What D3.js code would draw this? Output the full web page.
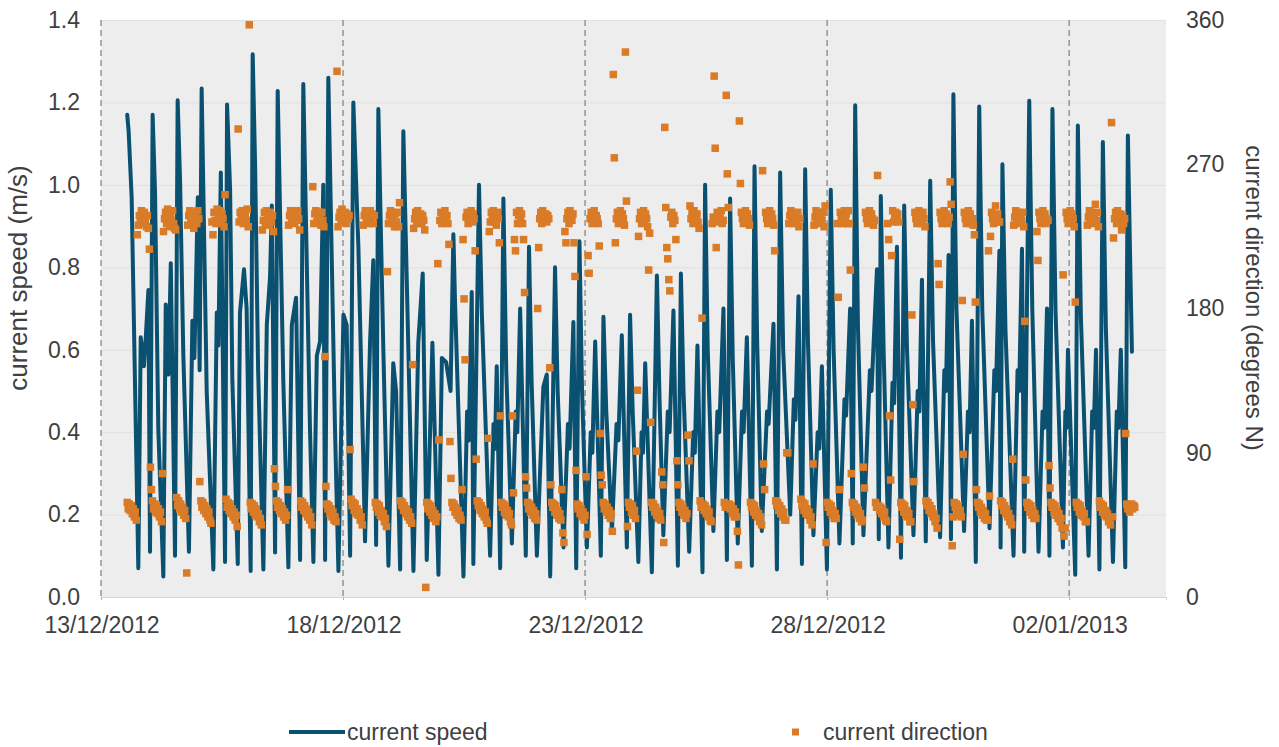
<!DOCTYPE html>
<html><head><meta charset="utf-8">
<script src="https://cdn.jsdelivr.net/npm/d3@7/dist/d3.min.js"></script>
<style>
body{margin:0;background:#fff}
text{font-family:"Liberation Sans",Arial,Helvetica,sans-serif;fill:#404040}
</style>
</head><body>
<svg id="chart" width="1279" height="747"></svg>
<script>
// ---------- DATA ----------
const dateTicks = ["2012-12-13","2012-12-18","2012-12-23","2012-12-28","2013-01-02"];
const speedTicks = [0,0.2,0.4,0.6,0.8,1.0,1.2,1.4];
const directionTicks = [0,90,180,270,360];
const seriesNames = ["current speed","current direction"];
// current speed: [hours since 13/12/2012 00:00, m/s]
const speedPoints = [
[13.0,1.17],[13.7,1.13],[15.2,0.97],[18.5,0.07],[19.7,0.63],[21.3,0.56],[22.2,0.63],[23.5,0.745],[24.3,0.11],
[25.6,1.17],[26.8,0.98],[28.4,0.41],[30.9,0.05],[32.1,0.71],[33.4,0.54],[34.6,0.81],[36.7,0.10],
[38.0,1.205],[39.2,1.01],[40.8,0.59],[43.6,0.11],[45.3,0.67],[46.3,0.58],[48.0,0.97],[48.9,0.55],
[49.9,1.234],[52.4,0.50],[55.7,0.067],[57.4,0.69],[58.2,0.61],[59.4,1.03],[61.5,0.085],
[62.5,1.195],[64.0,0.99],[65.1,0.53],[67.8,0.08],[68.9,0.69],[70.9,0.795],[72.2,0.70],[74.2,0.063],
[75.2,1.317],[76.4,1.05],[77.9,0.55],[80.5,0.067],[82.2,0.66],[83.8,0.776],[84.7,0.95],[86.3,0.108],
[87.6,1.228],[90.4,0.52],[92.9,0.072],[94.6,0.66],[96.7,0.726],[98.7,0.09],
[100.3,1.245],[103.6,0.41],[105.3,0.085],[107.0,0.585],[108.6,0.62],[110.2,1.0],[111.1,0.09],
[112.7,1.26],[116.0,0.41],[117.7,0.063],[120.2,0.685],[121.8,0.66],[123.5,0.10],
[125.1,1.2],[127.6,0.85],[130.1,0.32],[130.9,0.135],[133.4,0.62],[135.0,0.817],[136.4,0.126],
[137.5,1.184],[140.0,0.595],[142.5,0.076],[144.9,0.567],[146.3,0.50],[148.3,0.067],
[149.9,1.13],[152.4,0.595],[154.9,0.063],[157.3,0.617],[159.5,0.785],[161.5,0.09],[164.3,0.617],[167.3,0.054],[169.0,0.58],[171.1,0.57],[173.3,0.50],
[174.7,0.88],[175.5,0.72],[179.7,0.05],[181.5,0.45],[182.3,0.38],[183.8,0.74],[184.6,0.08],
[187.4,1.0],[188.8,0.69],[192.9,0.10],[194.6,0.42],[195.3,0.36],[196.2,0.56],[197.9,0.07],
[199.5,0.967],[200.9,0.55],[203.7,0.13],[205.6,0.45],[206.4,0.40],[207.8,0.70],[210.6,0.10],
[212.2,0.85],[213.5,0.52],[216.1,0.10],[219.3,0.51],[221.0,0.54],[222.7,0.05],
[225.1,0.80],[226.4,0.50],[229.3,0.12],[231.5,0.42],[232.3,0.36],[234.2,0.667],[235.6,0.07],
[237.2,0.863],[238.5,0.50],[240.9,0.12],[242.8,0.40],[243.6,0.35],[245.0,0.62],[247.8,0.10],
[249.1,0.68],[250.5,0.45],[253.3,0.16],[255.6,0.42],[256.5,0.38],[258.2,0.635],[260.7,0.12],
[262.3,0.685],[263.6,0.45],[266.4,0.085],[268.0,0.40],[268.7,0.35],[269.8,0.567],[273.1,0.06],
[275.6,0.78],[276.9,0.48],[278.8,0.15],[281.0,0.45],[281.9,0.40],[283.8,0.695],[286.0,0.076],
[287.5,0.785],[288.8,0.50],[291.6,0.11],[293.6,0.40],[294.4,0.35],[295.7,0.61],[298.2,0.06],
[299.5,1.0],[300.8,0.60],[303.6,0.16],[305.6,0.45],[306.5,0.40],[308.6,0.70],[310.3,0.09],
[311.9,0.967],[313.2,0.58],[315.7,0.13],[317.8,0.45],[318.6,0.40],[320.2,0.63],[322.7,0.076],
[324.0,1.045],[325.3,0.62],[327.6,0.16],[330.2,0.45],[331.0,0.42],[333.4,0.663],[335.1,0.067],
[336.7,1.03],[338.2,0.60],[341.7,0.20],[343.5,0.48],[344.3,0.43],[345.8,0.73],[347.5,0.08],
[349.1,1.038],[350.5,0.62],[353.2,0.15],[355.3,0.40],[356.1,0.36],[357.4,0.56],[359.9,0.067],
[361.8,0.988],[363.2,0.60],[366.1,0.13],[368.6,0.48],[369.4,0.44],[371.4,0.70],[372.7,0.13],
[373.9,1.193],[375.3,0.65],[378.0,0.15],[381.2,0.55],[382.0,0.50],[384.7,0.795],[385.6,0.14],
[386.6,0.973],[388.0,0.60],[390.4,0.12],[392.4,0.52],[393.2,0.47],[394.6,0.85],[396.6,0.095],
[398.2,0.95],[399.6,0.60],[402.8,0.15],[404.9,0.50],[405.7,0.45],[407.0,0.77],[408.9,0.135],
[411.1,1.01],[412.5,0.62],[416.0,0.145],[418.1,0.55],[418.9,0.50],[420.2,0.83],[421.4,0.14],
[422.6,1.22],[424.1,0.70],[427.9,0.16],[429.8,0.45],[430.6,0.40],[431.8,0.67],[433.7,0.085],
[435.4,1.19],[436.9,0.70],[440.5,0.167],[442.9,0.55],[443.7,0.50],[445.4,0.84],[446.0,0.12],
[446.9,1.05],[448.4,0.65],[452.4,0.10],[454.4,0.55],[455.2,0.50],[456.6,0.845],[457.7,0.11],
[460.2,1.204],[461.7,0.70],[464.8,0.11],[466.8,0.45],[467.6,0.41],[469.0,0.70],[470.2,0.10],
[471.7,1.184],[473.2,0.70],[476.9,0.12],[478.1,0.45],[478.7,0.41],[479.4,0.60],[483.0,0.054],
[484.3,1.144],[485.8,0.68],[489.6,0.10],[491.4,0.45],[492.2,0.41],[493.3,0.60],[495.0,0.067],
[496.7,1.104],[498.2,0.65],[501.7,0.085],[503.6,0.45],[504.4,0.41],[505.6,0.60],[507.8,0.072],
[509.1,1.12],[510.3,0.80],[511.1,0.595]
];
// current direction, half-hourly readings: [first hour since 13/12/2012 00:00, [degrees N ...]]
const directionStepHours = 0.5;
const directionBlocks = [
[13,[59,55,58,54,57,52,55,50,53,48]],
[18,[226,232,238,234,241,236,233,240,235,231,238,230]],
[24,[217,81,67,60,55,58,53,57,52,55,50,53,47,77]],
[31,[228,236,240,233,242,237,231,239,235,241,233,230]],
[37,[229,62,57,60,55,58,53,56,51,54,49,15]],
[43,[232,238,241,234,239,236,230,240,237,233,241,236]],
[49,[72,60,56,59,54,57,52,55,50,53,48,46]],
[55,[234,226,240,235,233,242,238,236,241,233,239,236,231,251]],
[62,[61,56,59,54,58,52,55,50,53,48,51,44]],
[68,[292,234,240,237,241,233,236,239,235,242,231,357]],
[74,[59,55,58,53,57,51,55,50,52,47,49,45]],
[80,[229,235,240,233,241,237,236,232,240,234,238,228]],
[86,[80,69,60,56,59,54,57,52,55,50,53,48,51,67]],
[93,[232,238,241,234,240,236,233,239,235,241,236,229]],
[99,[60,56,59,54,57,52,55,50,53,48,50,45]],
[105,[256,233,239,241,234,238,240,236,232,240,235,231]],
[111,[150,69,58,55,57,52,55,50,53,48,50,47]],
[117,[328,231,237,240,234,242,238,236,240,233,239,236,238,92]],
[124,[61,57,59,54,58,52,55,51,53,48,50,45]],
[130,[232,238,241,235,240,233,237,241,234,239,233,238]],
[136,[59,56,58,53,57,51,54,50,52,47,49,44]],
[142,[203,233,238,241,235,240,236,231,239,234,240,231]],
[148,[246,60,57,59,54,57,52,55,50,53,48,50,46,145]],
[155,[230,236,240,233,241,237,235,239,233,238,235,229]],
[161,[6,59,55,58,53,57,51,54,49,52,47,50]],
[167,[208,98,235,240,233,238,236,241,234,238,233,220]],
[173,[97,74,59,56,58,53,56,51,54,49,51,48]],
[179,[67,223,186,148,237,240,233,238,235,241,234,239,236,216]],
[186,[86,60,57,59,54,57,52,55,50,53,48,46]],
[192,[99,228,234,240,236,241,234,238,232,240,236,221]],
[198,[113,59,56,58,53,57,51,54,50,52,47,45]],
[204,[113,65,223,216,240,233,238,241,235,239,233,223]],
[210,[190,75,68,59,55,58,53,56,51,54,49,52,48,180]],
[217,[218,236,240,233,241,237,235,239,234,238,236,143]],
[223,[70,59,56,58,53,57,51,54,49,52,48,67]],
[229,[40,34,228,221,236,240,233,241,237,235,239,221]],
[235,[200,79,58,55,57,52,55,50,53,48,51,75]],
[241,[39,213,202,236,240,233,238,241,234,238,236,233]],
[247,[219,102,76,70,59,55,58,53,56,51,54,49,52,41]],
[254,[326,274,221,236,240,233,238,241,234,239,236,232]],
[260,[340,247,44,59,56,58,53,57,51,54,49,91]],
[266,[129,225,236,240,233,238,241,234,239,236,231,204]],
[272,[227,109,59,56,58,53,56,51,54,49,52,48]],
[278,[78,70,34,293,243,218,211,198,191,237,240,233,238,235]],
[285,[223,85,70,59,56,58,53,56,51,54,49,52]],
[291,[101,85,244,236,240,233,241,237,235,239,234,230]],
[297,[60,56,174,58,54,57,52,55,50,53,48,47]],
[303,[233,237,325,280,218,240,234,238,236,241,233,235]],
[309,[59,56,313,264,243,58,55,57,52,55,50,53,50,41]],
[316,[20,297,258,240,236,233,238,241,234,239,236,232]],
[322,[59,56,58,53,57,51,54,50,52,47,50,45]],
[328,[266,83,67,240,236,233,238,241,234,239,236,232]],
[334,[216,60,57,59,54,57,52,55,50,53,48,48]],
[340,[90,90,233,238,241,234,240,236,233,239,235,240,231,236]],
[347,[61,57,59,54,58,52,55,51,53,48,50,45]],
[353,[83,232,237,241,234,240,236,233,239,235,240,231]],
[359,[244,34,59,56,58,53,57,51,54,49,52,49]],
[365,[233,187,67,240,236,233,238,241,235,239,233,241]],
[371,[233,204,77,59,56,58,53,56,51,54,49,52,47,48]],
[378,[81,68,240,236,233,238,241,234,239,236,232,235]],
[384,[59,56,263,57,54,56,52,55,50,53,48,47]],
[390,[233,223,113,73,213,241,234,238,240,236,239,234]],
[396,[36,59,56,58,53,57,51,54,50,52,47,47]],
[402,[176,120,72,240,236,233,238,241,235,239,233,240,236,231]],
[409,[60,57,59,54,57,52,55,50,52,47,49,43]],
[415,[208,195,240,236,233,238,241,234,239,236,233,237]],
[421,[259,245,32,50,59,56,58,53,57,51,54,50]],
[427,[185,89,240,236,233,238,241,235,239,233,236,232]],
[433,[226,184,67,59,56,58,53,56,51,54,49,52,48,48]],
[440,[216,63,225,240,236,233,238,244,235,239,234,234]],
[446,[60,57,59,54,57,52,55,50,52,47,49,45]],
[452,[86,232,237,241,234,240,236,233,239,235,240,231]],
[458,[172,73,59,56,58,53,57,51,54,49,52,49]],
[464,[228,210,240,236,233,238,241,235,239,233,236,235]],
[470,[82,68,59,56,58,53,57,51,54,49,52,47,49,43]],
[477,[201,38,43,240,236,233,238,241,234,239,236,231]],
[483,[184,59,56,58,53,57,51,54,50,52,47,47]],
[489,[232,237,241,234,240,236,233,239,245,235,240,231]],
[495,[60,56,58,53,57,51,54,50,52,47,49,45,296,50]],
[502,[224,236,240,233,241,237,235,239,229,238,233,236]],
[508,[102,58,55,57,53,56,58,55,57,56]]
];

// ---------- CHART ----------
const M = {left:101, right:1166, top:20, bottom:597};
const t0 = Date.UTC(2012,11,13);
const toDate = h => new Date(t0 + h*3600e3);
const parseDay = d3.utcParse("%Y-%m-%d");

const svg = d3.select("#chart");
const x = d3.scaleUtc().domain([parseDay("2012-12-13"), parseDay("2013-01-04")]).range([M.left, M.right]);
const yS = d3.scaleLinear().domain([0,1.4]).range([M.bottom, M.top]);
const yD = d3.scaleLinear().domain([0,360]).range([M.bottom, M.top]);

const speedColor = "#0a5070", dirColor = "#d97b27", textColor = "#404040";

svg.append("rect").attr("x",M.left).attr("y",M.top)
  .attr("width",M.right-M.left).attr("height",M.bottom-M.top).attr("fill","#ededed");

// horizontal gridlines
svg.append("g").selectAll("line").data(speedTicks.filter(d=>d>0)).join("line")
  .attr("x1",M.left).attr("x2",M.right)
  .attr("y1",d=>yS(d)+0.5).attr("y2",d=>yS(d)+0.5)
  .attr("stroke","#e0e0e0").attr("stroke-width",1);

// bottom axis line + ticks
const xAxis = d3.axisBottom(x).tickValues(dateTicks.map(parseDay)).tickSize(3).tickFormat("");
const gx = svg.append("g").attr("transform",`translate(0,${M.bottom})`).call(xAxis);
gx.select(".domain").attr("stroke","#d6d6d6");
gx.selectAll(".tick line").attr("stroke","#b0b0b0");

// dashed date lines
svg.append("g").selectAll("line").data(dateTicks.map(parseDay)).join("line")
  .attr("x1",d=>x(d)).attr("x2",d=>x(d))
  .attr("y1",M.top).attr("y2",M.bottom)
  .attr("stroke","#9a9a9a").attr("stroke-width",1.6).attr("stroke-dasharray","6,4");

// speed line
const line = d3.line().x(d=>x(toDate(d[0]))).y(d=>yS(d[1]));
svg.append("path").datum(speedPoints).attr("d",line)
  .attr("fill","none").attr("stroke",speedColor).attr("stroke-width",4)
  .attr("stroke-linejoin","round").attr("stroke-linecap","round");

// direction squares
const dirPoints = [];
directionBlocks.forEach(([h0, vals]) => vals.forEach((v,i) => dirPoints.push([h0 + i*directionStepHours, v])));
const sq = 7.5;
svg.append("g").selectAll("rect").data(dirPoints).join("rect")
  .attr("x",d=>x(toDate(d[0]))-sq/2).attr("y",d=>yD(d[1])-sq/2)
  .attr("width",sq).attr("height",sq).attr("fill",dirColor);

// left axis labels
const fs = 23;
const yAxisL = d3.axisLeft(yS).tickValues(speedTicks).tickSize(0).tickPadding(21).tickFormat(d3.format(".1f"));
const gl = svg.append("g").attr("transform",`translate(${M.left},0)`).call(yAxisL);
gl.select(".domain").remove();
gl.selectAll("text").attr("font-size",fs).attr("fill",textColor).attr("font-family",null);

const yAxisR = d3.axisRight(yD).tickValues(directionTicks).tickSize(0).tickPadding(20);
const gr = svg.append("g").attr("transform",`translate(${M.right},0)`).call(yAxisR);
gr.select(".domain").remove();
gr.selectAll("text").attr("font-size",fs).attr("fill",textColor).attr("font-family",null);

// date labels
const fmt = d3.utcFormat("%d/%m/%Y");
svg.append("g").selectAll("text").data(dateTicks.map(parseDay)).join("text")
  .attr("x",d=>x(d)+1).attr("y",633).attr("text-anchor","middle")
  .attr("font-size",fs).text(d=>fmt(d));

// axis titles
svg.append("text").attr("transform","translate(27,278) rotate(-90)")
  .attr("text-anchor","middle").attr("font-size",26).text("current speed (m/s)");
svg.append("text").attr("transform","translate(1246,298) rotate(90)")
  .attr("text-anchor","middle").attr("font-size",24).text("current direction (degrees N)");

// legend
svg.append("line").attr("x1",289).attr("x2",345).attr("y1",732).attr("y2",732)
  .attr("stroke",speedColor).attr("stroke-width",4);
svg.append("text").attr("x",347).attr("y",740).attr("font-size",fs).text(seriesNames[0]);
svg.append("rect").attr("x",792).attr("y",728.5).attr("width",7).attr("height",7).attr("fill",dirColor);
svg.append("text").attr("x",823).attr("y",740).attr("font-size",fs).text(seriesNames[1]);
</script>
</body></html>
